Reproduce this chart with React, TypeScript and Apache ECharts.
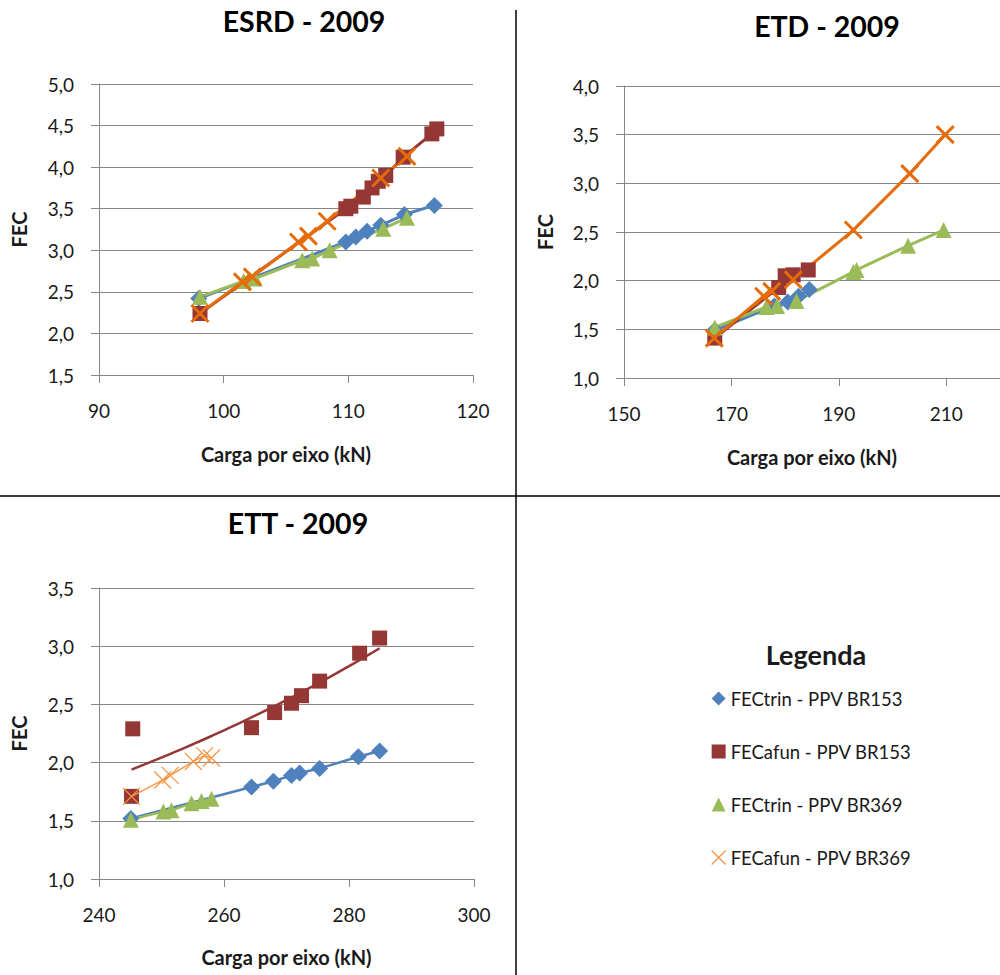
import React, { useEffect, useRef } from "react";
import * as echarts from "echarts";

// ---------- DATA ----------
const seriesNames = [
  "FECtrin - PPV BR153",
  "FECafun - PPV BR153",
  "FECtrin - PPV BR369",
  "FECafun - PPV BR369",
];
const chartTitles = ["ESRD - 2009", "ETD - 2009", "ETT - 2009"];
const xAxisTitle = "Carga por eixo (kN)";
const yAxisTitle = "FEC";
const legendTitle = "Legenda";

// ESRD - 2009  [kN, FEC]
const esrdTrin153 = [[98.0, 2.42], [109.8, 3.1], [110.6, 3.16], [111.5, 3.23], [112.6, 3.3], [114.5, 3.43], [116.9, 3.54]];
const esrdAfun153 = [[98.1, 2.24], [109.8, 3.5], [110.2, 3.53], [111.2, 3.64], [111.9, 3.75], [112.4, 3.83], [113.0, 3.9], [114.4, 4.12], [116.7, 4.4], [117.1, 4.46]];
const esrdTrin369 = [[98.1, 2.44], [101.6, 2.63], [102.5, 2.66], [106.3, 2.88], [107.1, 2.9], [108.5, 3.0], [112.8, 3.26], [114.7, 3.39]];
const esrdAfun369 = [[98.1, 2.24], [101.5, 2.62], [102.3, 2.68], [106.0, 3.1], [106.8, 3.17], [108.3, 3.35], [112.6, 3.87], [114.7, 4.13]];

// ETD - 2009
const etdTrin153 = [[166.9, 1.49], [178.0, 1.74], [180.5, 1.78], [182.5, 1.84], [184.5, 1.91]];
const etdAfun153 = [[166.9, 1.41], [178.8, 1.93], [180.0, 2.05], [181.5, 2.06], [184.3, 2.11]];
const etdTrin369 = [[166.9, 1.52], [176.5, 1.73], [178.5, 1.74], [182.1, 1.79], [192.7, 2.09], [193.3, 2.11], [202.9, 2.36], [209.5, 2.52]];
const etdAfun369 = [[166.8, 1.41], [176.0, 1.84], [177.5, 1.89], [181.5, 2.01], [192.7, 2.52], [203.2, 3.1], [209.8, 3.5]];

// ETT - 2009
const ettTrin153 = [[245.1, 1.52], [264.4, 1.79], [267.9, 1.84], [270.8, 1.89], [272.1, 1.91], [275.3, 1.95], [281.5, 2.05], [284.9, 2.1]];
const ettAfun153 = [[245.4, 2.29], [245.2, 1.71], [264.4, 2.3], [268.1, 2.43], [270.8, 2.51], [272.4, 2.575], [275.3, 2.7], [281.7, 2.94], [284.9, 3.07]];
const ettTrin369 = [[245.1, 1.51], [250.3, 1.58], [251.6, 1.59], [254.8, 1.65], [256.4, 1.67], [258.0, 1.69]];
const ettAfun369 = [[245.2, 1.71], [250.2, 1.85], [251.4, 1.89], [255.1, 2.01], [256.9, 2.06], [258.0, 2.04]];

// Axis ranges / ticks
const xRanges = [[90, 120, 10], [150, 220, 20], [240, 300, 20]];
const yRanges = [[1.5, 5.0, 0.5], [1.0, 4.0, 0.5], [1.0, 3.5, 0.5]];
const etdXTicks = [150, 170, 190, 210];

// ---------- STYLE ----------
const BLUE = "#4F81BD";
const RED = "#953735";
const GREEN = "#9BBB59";
const ORANGE = "#E46C0A";
const ORANGE_LIGHT = "#F79646";
const GRAY = "#868686";
const FONT = 'Lato, "Liberation Sans", sans-serif';
const XPATH = "path://M0,0L10,10M10,0L0,10";

function expTrend(points: number[][], steps = 40) {
  const n = points.length;
  let sx = 0, sy = 0;
  points.forEach(([x, y]) => { sx += x; sy += Math.log(y); });
  const mx = sx / n, my = sy / n;
  let sxy = 0, sxx = 0;
  points.forEach(([x, y]) => { sxy += (x - mx) * (Math.log(y) - my); sxx += (x - mx) * (x - mx); });
  const b = sxy / sxx;
  const a = my - b * mx;
  const xs = points.map((p) => p[0]);
  const lo = Math.min(...xs), hi = Math.max(...xs);
  const out: number[][] = [];
  for (let i = 0; i <= steps; i++) {
    const x = lo + ((hi - lo) * i) / steps;
    out.push([x, Math.exp(a + b * x)]);
  }
  return out;
}

const grids = [
  { left: 99, top: 84, width: 374, height: 291 },
  { left: 624, top: 86, width: 376, height: 292 },
  { left: 99, top: 588, width: 375, height: 291 },
];
const titleCenters = [[299, 1], [822, 6], [293, 503]];
const xNameGaps = [69, 69, 68];
const yNameGaps = [70, 69, 70];

export default function App() {
  const ref = useRef<HTMLDivElement>(null);
  useEffect(() => {
    if (!ref.current) return;
    const chart = echarts.init(ref.current, null, { renderer: "svg" });

    const xAxis = xRanges.map((r, i) => {
      const ax: any = {
        type: "value",
        gridIndex: i,
        min: r[0],
        max: r[1],
        name: xAxisTitle,
        nameLocation: "middle",
        nameGap: xNameGaps[i],
        nameTextStyle: { fontFamily: FONT, fontSize: 20, fontWeight: "bold", color: "#1a1a1a" },
        axisLine: { show: true, lineStyle: { color: GRAY, width: 1 } },
        axisTick: { show: true, length: 8, lineStyle: { color: GRAY } },
        splitLine: { show: false },
        axisLabel: { fontFamily: FONT, fontSize: 19, color: "#1a1a1a", margin: 26 },
      };
      if (i === 1) {
        ax.axisLabel.customValues = etdXTicks;
        ax.axisTick.customValues = etdXTicks;
      } else {
        ax.interval = r[2];
      }
      return ax;
    });

    const yAxis = yRanges.map((r, i) => ({
      type: "value",
      gridIndex: i,
      min: r[0],
      max: r[1],
      interval: r[2],
      name: yAxisTitle,
      nameLocation: "middle",
      nameGap: yNameGaps[i],
      nameTextStyle: { fontFamily: FONT, fontSize: 20, fontWeight: "bold", color: "#1a1a1a" },
      axisLine: { show: true, lineStyle: { color: GRAY, width: 1 } },
      axisTick: { show: true, length: 8, lineStyle: { color: GRAY } },
      splitLine: { show: true, lineStyle: { color: GRAY, width: 1 } },
      axisLabel: {
        fontFamily: FONT,
        fontSize: 19,
        color: "#1a1a1a",
        margin: 25,
        formatter: (v: number) => v.toFixed(1).replace(".", ","),
      },
    }));

    const mk = (
      name: string,
      data: number[][],
      idx: number,
      kind: "trin153" | "afun153" | "trin369" | "afun369",
      lineW: number,
      withLine = true
    ): any => {
      let symbol = "diamond", size = 17, color = BLUE, itemStyle: any = { color: BLUE, opacity: 1 };
      if (kind === "afun153") { symbol = "rect"; size = 15; color = RED; itemStyle = { color: RED, opacity: 1 }; }
      if (kind === "trin369") { symbol = "triangle"; size = 16; color = GREEN; itemStyle = { color: GREEN, opacity: 1 }; }
      if (kind === "afun369") {
        symbol = XPATH;
        color = idx === 2 ? ORANGE_LIGHT : ORANGE;
        size = 17;
        itemStyle = { color: color, borderColor: color, borderWidth: idx === 2 ? 1.3 : 3, opacity: 1 };
      }
      return {
        name,
        type: withLine ? "line" : "scatter",
        xAxisIndex: idx,
        yAxisIndex: idx,
        data,
        symbol,
        symbolSize: size,
        itemStyle,
        lineStyle: { color, width: lineW },
        showSymbol: true,
        silent: true,
      };
    };

    const series: any[] = [
      mk(seriesNames[0], esrdTrin153, 0, "trin153", 3),
      mk(seriesNames[1], esrdAfun153, 0, "afun153", 3),
      mk(seriesNames[2], esrdTrin369, 0, "trin369", 3),
      mk(seriesNames[3], esrdAfun369, 0, "afun369", 3),
      mk(seriesNames[0], etdTrin153, 1, "trin153", 3),
      mk(seriesNames[1], etdAfun153, 1, "afun153", 3),
      mk(seriesNames[2], etdTrin369, 1, "trin369", 3),
      mk(seriesNames[3], etdAfun369, 1, "afun369", 3),
      mk(seriesNames[0], ettTrin153, 2, "trin153", 2.5),
      {
        name: "trend",
        type: "line",
        xAxisIndex: 2,
        yAxisIndex: 2,
        data: expTrend(ettAfun153),
        symbol: "none",
        smooth: false,
        lineStyle: { color: RED, width: 2.5 },
        silent: true,
      },
      mk(seriesNames[1], ettAfun153, 2, "afun153", 2.5, false),
      mk(seriesNames[2], ettTrin369, 2, "trin369", 2.5),
      mk(seriesNames[3], ettAfun369, 2, "afun369", 1.5),
    ];

    const option: any = {
      animation: false,
      backgroundColor: "#ffffff",
      title: [
        ...chartTitles.map((t, i) => ({
          text: t,
          left: titleCenters[i][0],
          top: titleCenters[i][1],
          textAlign: "center",
          textStyle: { fontFamily: FONT, fontSize: 28.5, fontWeight: "bold", color: "#000" },
        })),
        {
          text: legendTitle,
          left: 811,
          top: 636,
          textAlign: "center",
          textStyle: { fontFamily: FONT, fontSize: 27, fontWeight: "bold", color: "#1a1a1a" },
        },
      ],
      legend: {
        orient: "vertical",
        left: 706,
        top: 684,
        itemGap: 34,
        itemWidth: 14,
        itemHeight: 14,
        selectedMode: false,
        textStyle: { fontFamily: FONT, fontSize: 18.5, color: "#1a1a1a", lineHeight: 18 },
        data: [
          { name: seriesNames[0], icon: "diamond", itemStyle: { color: BLUE } },
          { name: seriesNames[1], icon: "rect", itemStyle: { color: RED } },
          { name: seriesNames[2], icon: "triangle", itemStyle: { color: GREEN } },
          { name: seriesNames[3], icon: XPATH, itemStyle: { color: ORANGE_LIGHT, borderColor: ORANGE_LIGHT, borderWidth: 1.3 } },
        ],
      },
      grid: grids.map((g) => ({ ...g, containLabel: false })),
      xAxis,
      yAxis,
      series,
      graphic: [
        { type: "line", shape: { x1: 516, y1: 10, x2: 516, y2: 975 }, style: { stroke: "#000", lineWidth: 1.5 }, silent: true },
        { type: "line", shape: { x1: 0, y1: 496, x2: 1000, y2: 496 }, style: { stroke: "#000", lineWidth: 1.5 }, silent: true },
      ],
    };
    chart.setOption(option);
    return () => chart.dispose();
  }, []);

  return (
    <div
      ref={ref}
      style={{ position: "absolute", left: 0, top: 0, width: 1000, height: 975, background: "#fff" }}
    />
  );
}
